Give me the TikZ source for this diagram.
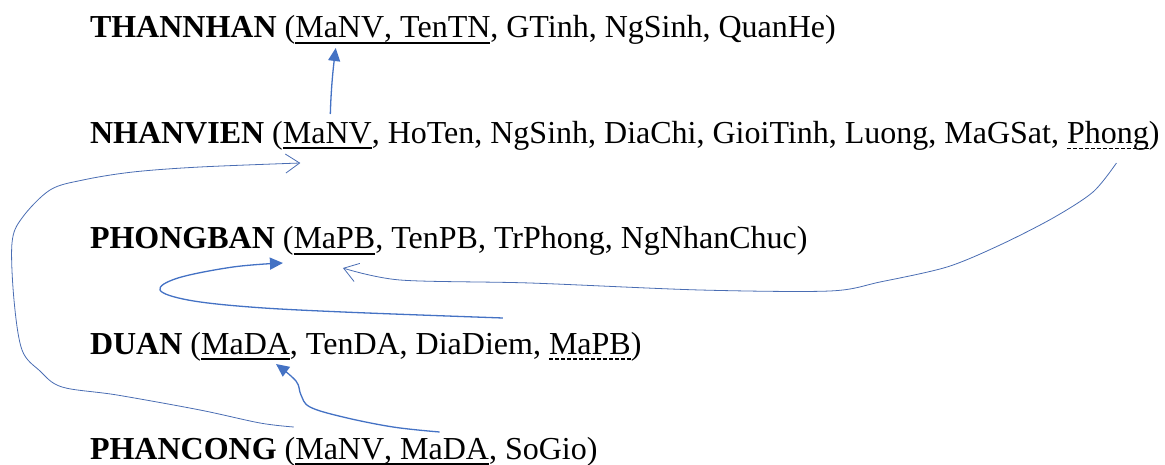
\documentclass[tikz,border=0pt]{standalone}
\usepackage{fontspec}
\setmainfont{Liberation Serif}
\usetikzlibrary{arrows.meta,calc}
\definecolor{lnk}{HTML}{4472C4}
\definecolor{lnkthin}{HTML}{4A6DB3}
\tikzset{
  tx/.style={inner sep=0pt, outer sep=0pt, anchor=base west},
  pk/.style={line width=2pt, black},
  fk/.style={line width=1.8pt, black, dash pattern=on 3.6pt off 2.4pt},
  thick link/.style={draw=lnk, line width=1.3pt, -{Triangle[length=13pt,width=12pt]}},
  thin link/.style={draw=lnkthin, line width=0.8pt, -{Straight Barb[length=14pt,width=19pt,line width=0.8pt]}}
}
\begin{document}
\begin{tikzpicture}[x=1pt,y=1pt,font=\fontsize{32}{38}\selectfont]
\useasboundingbox (0,0) rectangle (1165,-465);
% THANNHAN
\node[tx] (th0) at (90,-38) {\textbf{THANNHAN} (};
\node[tx] (th1) at (th0.base east) {MaNV};
\node[tx] (th2) at (th1.base east) {, TenTN};
\node[tx] (th3) at (th2.base east) {, GTinh, NgSinh, QuanHe)};
\draw[pk] ($(th1.base west)+(0,-5)$) -- ($(th2.base east)+(0,-5)$);
% NHANVIEN
\node[tx] (nv0) at (90,-143.5) {\textbf{NHANVIEN} (};
\node[tx] (nv1) at (nv0.base east) {MaNV};
\node[tx] (nv2) at (nv1.base east) {, HoTen, NgSinh, DiaChi, GioiTinh, Luong, MaGSat,\ \null};
\node[tx] (nv3) at (nv2.base east) {Phong};
\node[tx] (nv4) at (nv3.base east) {)};
\draw[pk] ($(nv1.base west)+(0,-5)$) -- ($(nv1.base east)+(0,-5)$);
\draw[fk] ($(nv3.base west)+(0,-5)$) -- ($(nv3.base east)+(0,-5)$);
% PHONGBAN
\node[tx] (pb0) at (90,-249) {\textbf{PHONGBAN} (};
\node[tx] (pb1) at (pb0.base east) {MaPB};
\node[tx] (pb2) at (pb1.base east) {, TenPB, TrPhong, NgNhanChuc)};
\draw[pk] ($(pb1.base west)+(0,-5)$) -- ($(pb1.base east)+(0,-5)$);
% DUAN
\node[tx] (da0) at (90,-354) {\textbf{DUAN} (};
\node[tx] (da1) at (da0.base east) {MaDA};
\node[tx] (da2) at (da1.base east) {, TenDA, DiaDiem,\ \null};
\node[tx] (da3) at (da2.base east) {MaPB};
\node[tx] (da4) at (da3.base east) {)};
\draw[pk] ($(da1.base west)+(0,-5)$) -- ($(da1.base east)+(0,-5)$);
\draw[fk] ($(da3.base west)+(0,-5)$) -- ($(da3.base east)+(0,-5)$);
% PHANCONG
\node[tx] (pc0) at (90,-459) {\textbf{PHANCONG} (};
\node[tx] (pc1) at (pc0.base east) {MaNV};
\node[tx] (pc2) at (pc1.base east) {,\ \null};
\node[tx] (pc3) at (pc2.base east) {MaDA};
\node[tx] (pc4) at (pc3.base east) {, SoGio)};
\draw[pk] ($(pc1.base west)+(0,-5)$) -- ($(pc3.base east)+(0,-5)$);
% connector end points
\coordinate (c1s) at ($(nv1.base)+(3,29.5)$);
\coordinate (c1e) at ($(th1.base)+(-4,-10)$);
\coordinate (c2s) at ($(pc1.base)+(-46,32)$);
\coordinate (c2e) at ($(nv1.base)+(-27,-19.5)$);
\coordinate (c3s) at ($(da3.base)+(-87,36)$);
\coordinate (c3e) at ($(pb1.base)+(-51.5,-14)$);
\coordinate (c4s) at ($(nv3.base)+(8.5,-19.5)$);
\coordinate (c4e) at ($(pb1.base)+(8.5,-19)$);
\coordinate (c5s) at ($(pc3.base)+(-5,27)$);
\coordinate (c5e) at ($(da1.base)+(30.5,-10)$);
% NHANVIEN.MaNV -> THANNHAN.MaNV
\draw[thick link] (c1s) .. controls (331,-90) and (333,-70) .. (c1e);
% PHANCONG.MaNV -> NHANVIEN.MaNV
\draw[thin link] plot[smooth, tension=0.55] coordinates {(c2s) (260,-423) (200,-410) (117,-395) (62,-387) (40,-371) (22,-350) (14,-300) (12,-243) (22,-218) (50,-190) (83,-180) (133,-172) (200,-167) (c2e)};
% DUAN.MaPB -> PHONGBAN.MaPB
\draw[thick link] plot[smooth, tension=0.6] coordinates {(c3s) (343,-312) (250,-307) (188,-300) (160,-290) (178,-278) (233,-267) (c3e)};
% NHANVIEN.Phong -> PHONGBAN.MaPB
\draw[thin link] plot[smooth, tension=0.5] coordinates {(c4s) (1093,-192) (1053,-218) (1000,-245) (947,-267) (880,-282) (830,-291) (700,-290) (530,-283) (400,-280) (c4e)};
% PHANCONG.MaDA -> DUAN.MaDA
\draw[thick link] plot[smooth, tension=0.6] coordinates {(c5s) (393,-427) (343,-417) (310,-407) (301,-395) (296,-381) (c5e)};
\end{tikzpicture}
\end{document}
